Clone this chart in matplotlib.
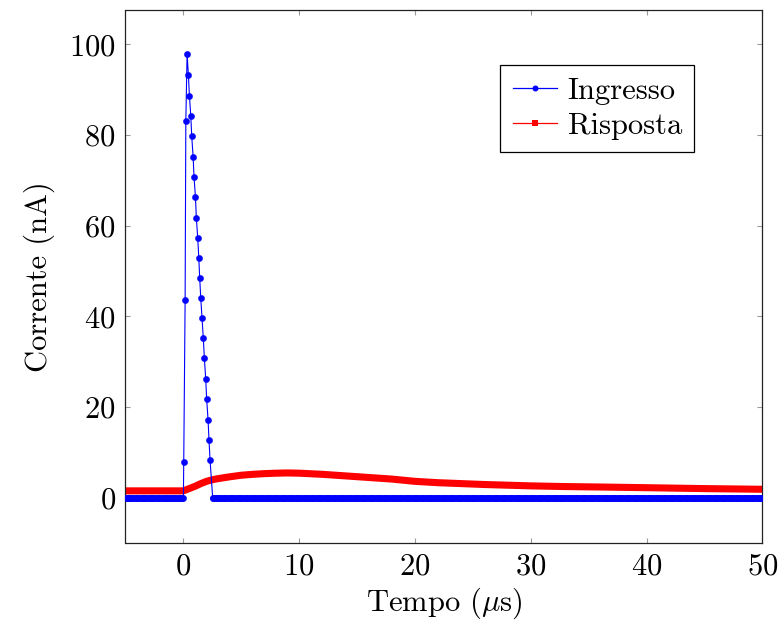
import numpy as np
import matplotlib
matplotlib.use('Agg')
import matplotlib.pyplot as plt
from matplotlib.lines import Line2D

# stile tipo LaTeX / pgfplots
plt.rcParams['font.family'] = ['cmr10', 'DejaVu Serif']
plt.rcParams['mathtext.fontset'] = 'cm'
plt.rcParams['axes.formatter.use_mathtext'] = True
plt.rcParams['axes.unicode_minus'] = False

# Ingresso: impulso (tempi in us, corrente in nA)
t_pre = np.arange(-5.0, 0.0, 0.1)
i_pre = np.zeros(len(t_pre))
t_pulse = [0.0, 0.03, 0.15, 0.21, 0.32, 0.43, 0.52, 0.64, 0.72, 0.84, 0.92,
           1.04, 1.12, 1.24, 1.33, 1.41, 1.50, 1.61, 1.72, 1.81, 1.93,
           2.01, 2.13, 2.21, 2.30, 2.53]
i_pulse = [0.0, 7.9, 43.6, 83.0, 97.9, 93.3, 88.7, 84.2, 79.7, 75.2, 70.7,
           66.3, 61.7, 57.2, 52.9, 48.4, 44.0, 39.6, 35.2, 30.8, 26.1,
           21.7, 17.2, 12.8, 8.4, 0.0]
t_post = np.arange(2.6, 50.01, 0.1)
i_post = np.zeros(len(t_post))

t_in = np.concatenate([t_pre, t_pulse, t_post])
i_in = np.concatenate([i_pre, i_pulse, i_post])

# Risposta
t_out = [-5, -4, -3, -2, -1, 0, 0.5, 1, 1.5, 2, 2.5, 3, 4, 5, 6, 7, 8, 9,
         10, 12, 14, 16, 18, 20, 22, 24, 26, 28, 30, 33, 36, 40, 45, 50]
i_out = [1.5, 1.5, 1.5, 1.5, 1.5, 1.5, 2.0, 2.5, 3.1, 3.6, 3.95, 4.2, 4.6,
         4.95, 5.15, 5.3, 5.4, 5.45, 5.4, 5.15, 4.8, 4.45, 4.1, 3.6, 3.3,
         3.1, 2.9, 2.75, 2.6, 2.45, 2.35, 2.2, 2.0, 1.85]

fig = plt.figure(figsize=(7.79, 6.26), dpi=100)
ax = fig.add_axes([125.5 / 779, 1 - 543 / 626, (762.3 - 125.5) / 779, (543 - 10.3) / 626])

blue = '#0000ff'
red = '#ff0000'
fs = 22

# risposta: banda spessa di marker quadrati
ax.plot(t_out, i_out, color=red, lw=5.1, solid_capstyle='butt', zorder=2)

# ingresso
ax.plot(t_in, i_in, color=blue, lw=0.8, marker='o', ms=4.5, mew=0.3, zorder=3)

ax.set_xlim(-5, 50)
ax.set_ylim(-10, 107.5)
ax.set_xticks([0, 10, 20, 30, 40, 50])
ax.set_yticks([0, 20, 40, 60, 80, 100])
ax.tick_params(direction='in', length=3.5, width=0.8, color='#999999',
               top=True, right=True, labelsize=fs, pad=7)
for s in ax.spines.values():
    s.set_linewidth(0.9)
    s.set_color('#222222')

ax.set_xlabel(r'Tempo ($\mu$s)', fontsize=fs, labelpad=4)
ax.set_ylabel('Corrente (nA)', fontsize=fs, labelpad=10)

handles = [Line2D([], [], color=blue, lw=0.9, marker='o', ms=4.3, mew=0),
           Line2D([], [], color=red, lw=0.9, marker='s', ms=4.3, mew=0)]
leg = ax.legend(handles, ['Ingresso', 'Risposta'], loc='upper right',
                bbox_to_anchor=(0.893, 0.897), fontsize=fs, frameon=True,
                fancybox=False, edgecolor='black', framealpha=1,
                handlelength=1.45, handletextpad=0.35, borderpad=0.4,
                labelspacing=0.25, borderaxespad=0)
leg.get_frame().set_linewidth(0.9)

fig.savefig('out.png', dpi=100)
